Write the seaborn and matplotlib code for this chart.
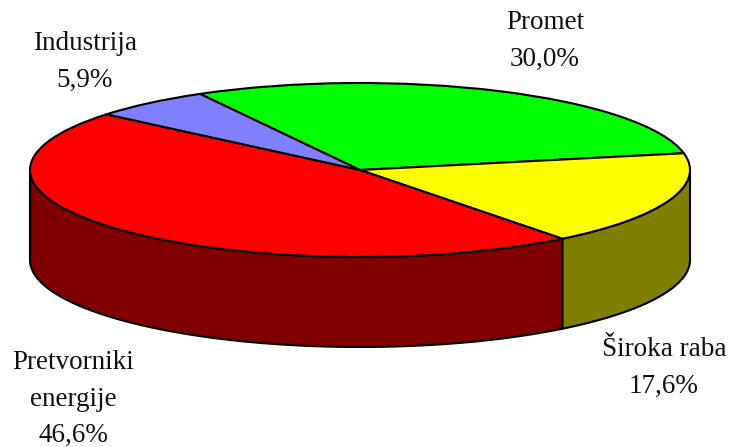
import numpy as np
import matplotlib
matplotlib.use('Agg')
import matplotlib.pyplot as plt
import seaborn as sns

labels = ['Promet\n30,0%', 'Široka raba\n17,6%', 'Pretvorniki\nenergije\n46,6%', 'Industrija\n5,9%']
shares = [30.0, 17.6, 46.6, 5.9]
top_colors = ['#00ff00', '#ffff00', '#ff0000', '#8080ff']
side_colors = ['#008000', '#808000', '#800000', '#404080']
label_pos = [(545, 41), (664, 368), (73, 399), (85, 62)]

sns.set_theme(style='white')
plt.rcParams['font.family'] = ['Liberation Serif', 'DejaVu Serif']

# reference geometry in pixels
cx, cy, rx, ry, depth = 360, 170, 330, 87, 90
start = 119.0

fig, ax = plt.subplots(figsize=(7.5, 4.47), dpi=100)
ax.set_position([0, 0, 1, 1])

# side wall first, only the front half of the disc shows
angle = start
for share, col in zip(shares, side_colors):
    sweep = share / sum(shares) * 360
    a1, a0 = angle, angle - sweep
    angle = a0
    for lo, hi in [(a0, a1), (a0 + 360, a1 + 360), (a0 - 360, a1 - 360)]:
        lo, hi = max(lo, -180), min(hi, 0)
        if hi <= lo:
            continue
        t = np.radians(np.linspace(lo, hi, 100))
        xs = np.r_[np.cos(t), np.cos(t[::-1])]
        ys = np.r_[np.sin(t), np.sin(t[::-1]) - depth / ry]
        ax.fill(xs, ys, facecolor=col, edgecolor='black', linewidth=1.5, zorder=1)

ax.pie(shares, colors=top_colors, startangle=start, counterclock=False, radius=1,
       wedgeprops={'edgecolor': 'black', 'linewidth': 1.5, 'zorder': 2})
ax.set_aspect('auto')
ax.set_xlim(-cx / rx, (750 - cx) / rx)
ax.set_ylim((cy - 447) / ry, cy / ry)
ax.axis('off')

for text, (px, py) in zip(labels, label_pos):
    ax.text((px - cx) / rx, (cy - py) / ry, text, ha='center', va='center',
            fontsize=19.5, color='#111111', linespacing=1.6, clip_on=False)

fig.savefig('out.png', dpi=100, facecolor='white')
